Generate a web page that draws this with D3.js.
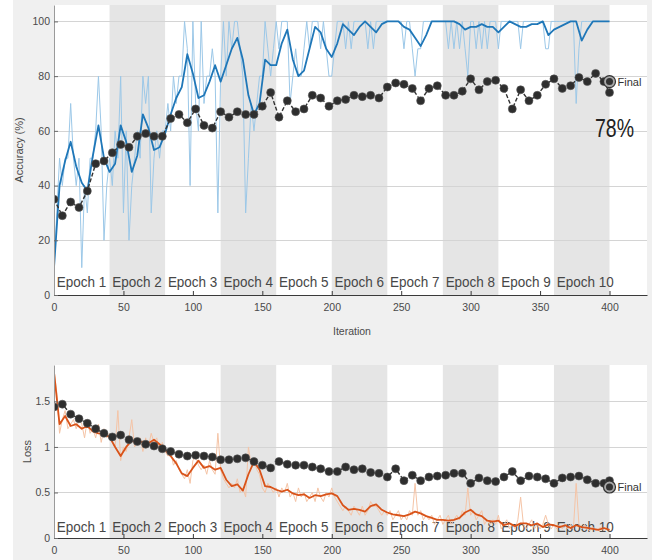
<!DOCTYPE html>
<html>
<head>
<meta charset="UTF-8">
<title>Training Progress</title>
<style>
  body { margin: 0; background: #fff; }
  svg { display: block; }
  svg text { font-family: "Liberation Sans", Arial, sans-serif; }
</style>
</head>
<body>
<script src="https://d3js.org/d3.v7.min.js"></script>
<svg></svg>
<script>
// ---- data ----
const iterTicks = [0, 50, 100, 150, 200, 250, 300, 350, 400];
const accTicks = [0, 20, 40, 60, 80, 100];
const accTickLabels = ["0", "20", "40", "60", "80", "100"];
const lossTicks = [0, 0.5, 1, 1.5];
const lossTickLabels = ["0", "0.5", "1", "1.5"];
const epochs = ["Epoch 1", "Epoch 2", "Epoch 3", "Epoch 4", "Epoch 5",
                "Epoch 6", "Epoch 7", "Epoch 8", "Epoch 9", "Epoch 10"];
const itersPerEpoch = 40;

// iterations of each series
const smoothIters = d3.range(0, 401, 4);
const rawIters = d3.range(0, 401, 2);
const valIters = d3.range(0, 397, 6).concat([400]);

// training accuracy, smoothed (every 4 iterations)
const accSmooth = [
  10, 40, 49, 56, 47, 41, 38, 51, 62, 50,
  45, 48, 62, 56, 45, 51, 66, 61, 53, 54,
  59, 66, 72, 76, 88, 81, 72, 73, 78, 84,
  78, 84, 90, 94, 86, 73, 66, 70, 86, 84,
  84, 92, 97, 86, 80, 82, 90, 98, 96, 90,
  87, 92, 99, 97, 95, 98, 100, 98, 96, 99,
  100, 100, 100, 98, 97, 94, 91, 95, 100, 100,
  100, 100, 100, 99, 97, 98, 98, 99, 98, 98,
  96, 98, 100, 99, 98, 98, 99, 99, 100, 95,
  97, 98, 99, 100, 100, 93, 97, 100, 100, 100,
  100
];
// training accuracy, mini-batch (every 2 iterations)
const accRaw = [
  10, 30, 50, 40, 50, 50, 70, 50, 40, 50,
  10, 40, 30, 50, 50, 60, 80, 60, 20, 40,
  50, 40, 60, 50, 80, 30, 60, 20, 40, 50,
  60, 50, 80, 70, 80, 30, 50, 60, 50, 60,
  60, 70, 60, 80, 70, 80, 80, 100, 90, 40,
  100, 70, 60, 100, 70, 80, 80, 90, 80, 30,
  80, 100, 80, 100, 90, 100, 100, 90, 80, 30,
  50, 70, 60, 70, 80, 80, 100, 90, 80, 90,
  100, 90, 100, 100, 100, 70, 80, 90, 80, 80,
  90, 100, 90, 100, 100, 100, 90, 100, 90, 80,
  80, 90, 100, 100, 100, 90, 100, 90, 100, 100,
  100, 100, 100, 90, 100, 90, 100, 100, 100, 100,
  100, 100, 100, 100, 100, 100, 90, 100, 100, 90,
  80, 90, 90, 100, 100, 100, 100, 100, 100, 100,
  100, 100, 90, 100, 90, 100, 90, 100, 90, 80,
  100, 100, 90, 100, 90, 100, 90, 100, 100, 100,
  90, 100, 100, 100, 100, 100, 100, 100, 90, 100,
  100, 100, 100, 100, 100, 100, 100, 90, 90, 100,
  100, 100, 100, 100, 100, 100, 100, 100, 70, 90,
  100, 100, 100, 100, 100, 100, 100, 100, 100, 100,
  100
];
// validation accuracy (every 6 iterations + last)
const accVal = [
  35, 29, 34, 32, 38, 48, 49, 52, 55, 54,
  58, 59, 58, 58, 64.5, 66, 63, 68, 62, 61,
  67, 65, 67, 66, 66, 69, 74, 65, 71, 67,
  68, 73, 72, 69, 71, 71.5, 73, 72.5, 73, 72,
  76, 77.5, 77, 75.5, 71, 75.5, 76.5, 73, 73, 74.5,
  79, 75, 78, 78.5, 75.5, 68, 75, 71, 73, 77,
  79, 75.5, 76.5, 79.5, 78, 81, 78,
  74
];
const accFinal = 78;

// training loss, smoothed (every 4 iterations)
const lossSmooth = [
  1.82, 1.25, 1.34, 1.23, 1.25, 1.20, 1.23, 1.17, 1.15, 1.14,
  1.11, 1.00, 0.90, 1.00, 1.07, 1.04, 1.06, 1.04, 1.08, 1.03,
  0.97, 0.90, 0.82, 0.71, 0.68, 0.77, 0.85, 0.77, 0.79, 0.75,
  0.77, 0.64, 0.57, 0.59, 0.52, 0.70, 0.84, 0.75, 0.57, 0.56,
  0.53, 0.51, 0.53, 0.49, 0.47, 0.48, 0.44, 0.47, 0.46, 0.48,
  0.49, 0.46, 0.36, 0.31, 0.32, 0.31, 0.29, 0.35, 0.37, 0.31,
  0.28, 0.26, 0.25, 0.24, 0.26, 0.29, 0.27, 0.24, 0.22, 0.20,
  0.20, 0.19, 0.20, 0.22, 0.28, 0.31, 0.26, 0.24, 0.19, 0.18,
  0.19, 0.14, 0.16, 0.13, 0.16, 0.16, 0.14, 0.16, 0.12, 0.15,
  0.14, 0.12, 0.14, 0.11, 0.14, 0.12, 0.11, 0.10, 0.09, 0.11,
  0.09
];
// training loss, mini-batch (every 2 iterations)
const lossRaw = [
  1.85, 1.60, 1.15, 1.30, 1.40, 1.20, 1.25, 1.30, 1.20, 1.30,
  1.25, 1.10, 1.30, 1.15, 1.20, 1.10, 1.25, 1.05, 1.20, 1.10,
  1.15, 1.05, 1.00, 1.40, 0.85, 1.00, 0.95, 1.10, 1.30, 1.00,
  1.05, 1.10, 0.95, 1.10, 1.00, 1.15, 1.05, 1.10, 0.95, 1.05,
  0.95, 0.90, 0.95, 0.80, 0.85, 0.75, 0.70, 0.65, 0.75, 0.60,
  0.85, 0.90, 0.80, 0.75, 0.80, 0.70, 0.85, 0.75, 0.70, 1.15,
  0.75, 0.65, 0.60, 0.55, 0.60, 0.55, 0.65, 0.50, 0.55, 0.45,
  1.00, 0.80, 0.85, 0.75, 0.70, 0.55, 0.50, 0.60, 0.55, 0.50,
  0.55, 0.45, 0.55, 0.50, 0.60, 0.45, 0.50, 0.40, 0.55, 0.45,
  0.50, 0.40, 0.45, 0.50, 0.40, 0.55, 0.45, 0.40, 0.50, 0.45,
  0.55, 0.45, 0.40, 0.35, 0.30, 0.35, 0.30, 0.25, 0.35, 0.30,
  0.25, 0.35, 0.25, 0.30, 0.40, 0.35, 0.35, 0.30, 0.25, 0.30,
  0.25, 0.30, 0.20, 0.25, 0.30, 0.20, 0.25, 0.20, 0.30, 0.25,
  0.60, 0.25, 0.30, 0.20, 0.25, 0.20, 0.25, 0.15, 0.20, 0.25,
  0.15, 0.20, 0.25, 0.15, 0.20, 0.25, 0.20, 0.30, 0.25, 0.55,
  0.25, 0.30, 0.20, 0.25, 0.30, 0.15, 0.20, 0.15, 0.20, 0.15,
  0.25, 0.10, 0.15, 0.20, 0.10, 0.15, 0.10, 0.20, 0.45, 0.15,
  0.10, 0.15, 0.20, 0.10, 0.15, 0.10, 0.15, 0.25, 0.15, 0.10,
  0.15, 0.10, 0.15, 0.10, 0.15, 0.10, 0.15, 0.10, 0.60, 0.15,
  0.10, 0.15, 0.10, 0.08, 0.12, 0.08, 0.10, 0.12, 0.08, 0.10,
  0.09
];
// validation loss (every 6 iterations + last)
const lossVal = [
  1.44, 1.47, 1.36, 1.31, 1.26, 1.20, 1.15, 1.11, 1.13, 1.08,
  1.06, 1.03, 1.01, 0.98, 0.95, 0.92, 0.90, 0.91, 0.90, 0.89,
  0.86, 0.86, 0.87, 0.88, 0.84, 0.80, 0.77, 0.84, 0.81, 0.80,
  0.80, 0.78, 0.76, 0.73, 0.73, 0.78, 0.75, 0.76, 0.72, 0.71,
  0.67, 0.76, 0.63, 0.69, 0.63, 0.67, 0.68, 0.69, 0.71, 0.71,
  0.60, 0.66, 0.63, 0.62, 0.67, 0.73, 0.63, 0.68, 0.67, 0.65,
  0.60, 0.66, 0.67, 0.68, 0.64, 0.60, 0.60,
  0.63
];
const lossFinal = 0.56;

// ---- drawing ----
const W = 662, H = 560;
const svg = d3.select("svg").attr("width", W).attr("height", H);

// figure background
svg.append("rect").attr("x", 13).attr("y", 0).attr("width", 639).attr("height", H)
  .attr("fill", "#f0f0f0");

const x = d3.scaleLinear().domain([0, 427]).range([54, 647]);

function scaledText(g, px, py, str, size, sx, anchor, fill) {
  return g.append("text")
    .attr("transform", "translate(" + px + "," + py + ") scale(" + sx + ",1)")
    .attr("font-size", size)
    .attr("text-anchor", anchor)
    .attr("fill", fill)
    .text(str);
}

function drawPanel(p) {
  const y = d3.scaleLinear().domain([0, p.yMax]).range([p.bottom, p.top]);
  const g = svg.append("g");

  // plot area + epoch bands
  g.append("rect").attr("x", x(0)).attr("y", p.top)
    .attr("width", x(427) - x(0)).attr("height", p.bottom - p.top).attr("fill", "#fff");
  g.selectAll(".band").data(epochs.filter((e, i) => i % 2 === 1)).enter()
    .append("rect")
    .attr("x", d => x(epochs.indexOf(d) * itersPerEpoch))
    .attr("y", p.top)
    .attr("width", x(itersPerEpoch) - x(0))
    .attr("height", p.bottom - p.top)
    .attr("fill", "#e5e5e5");

  // horizontal grid
  g.selectAll(".grid").data(p.ticks).enter().append("line")
    .attr("x1", x(0)).attr("x2", x(427))
    .attr("y1", d => Math.round(y(d)) + 0.5).attr("y2", d => Math.round(y(d)) + 0.5)
    .attr("stroke", "#d4d4d4").attr("stroke-width", 1);

  // epoch labels
  epochs.forEach((e, i) => {
    scaledText(g, x(i * itersPerEpoch + 2), p.epochY, e, 15, 0.9, "start", "#474747");
  });

  const clip = "clip" + p.id;
  svg.append("clipPath").attr("id", clip).append("rect")
    .attr("x", x(0)).attr("y", p.top).attr("width", x(427) - x(0)).attr("height", p.bottom - p.top);
  const plot = g.append("g").attr("clip-path", "url(#" + clip + ")");

  const line = d3.line().x(d => x(d[0])).y(d => y(d[1]));

  plot.append("path")
    .attr("d", line(rawIters.map((it, i) => [it, p.raw[i]])))
    .attr("fill", "none").attr("stroke", p.rawColor).attr("stroke-width", 1)
    .attr("stroke-linejoin", "round");
  plot.append("path")
    .attr("d", line(smoothIters.map((it, i) => [it, p.smooth[i]])))
    .attr("fill", "none").attr("stroke", p.smoothColor).attr("stroke-width", 1.8)
    .attr("stroke-linejoin", "round");

  // validation
  const valPts = valIters.map((it, i) => [it, p.val[i]]);
  plot.append("path").attr("d", line(valPts))
    .attr("fill", "none").attr("stroke", "#333").attr("stroke-width", 1.4)
    .attr("stroke-dasharray", "4,2");
  plot.selectAll(".val").data(valPts).enter().append("circle")
    .attr("cx", d => x(d[0])).attr("cy", d => y(d[1])).attr("r", 4)
    .attr("fill", "#2e2e2e").attr("stroke", "#555").attr("stroke-width", 0.6);

  // final marker
  const fx = x(400), fy = y(p.final);
  g.append("circle").attr("cx", fx).attr("cy", fy).attr("r", 6)
    .attr("fill", "#a8a8a8").attr("stroke", "#333").attr("stroke-width", 1.2);
  g.append("circle").attr("cx", fx).attr("cy", fy).attr("r", 3.5).attr("fill", "#333");
  g.append("text").attr("x", fx + 8).attr("y", fy + 4).attr("font-size", 11)
    .attr("fill", "#333").text("Final");

  // axes
  const xAxis = d3.axisBottom(x).tickValues(iterTicks)
    .tickSizeInner(-4).tickSizeOuter(0).tickPadding(9);
  const gx = g.append("g").attr("transform", "translate(0," + p.bottom + ")").call(xAxis);
  gx.select(".domain").attr("stroke", "#3a3a3a").attr("stroke-width", 1.2);
  gx.selectAll(".tick line").attr("stroke", "#3a3a3a");
  gx.selectAll("text").attr("font-size", 10.5).attr("fill", "#4a4a4a")
    .attr("font-family", "Liberation Sans, Arial, sans-serif");

  const yAxis = d3.axisLeft(y).tickValues(p.ticks)
    .tickFormat((d, i) => p.tickLabels[i])
    .tickSizeInner(-4).tickSizeOuter(0).tickPadding(4);
  const gy = g.append("g").attr("transform", "translate(" + x(0) + ",0)").call(yAxis);
  gy.select(".domain").attr("stroke", "#9a9a9a");
  gy.selectAll(".tick line").attr("stroke", "#6a6a6a");
  gy.selectAll("text").attr("font-size", 10.5).attr("fill", "#4a4a4a")
    .attr("font-family", "Liberation Sans, Arial, sans-serif");

  // y title
  g.append("text")
    .attr("transform", "translate(" + p.yTitleX + "," + ((p.top + p.bottom) / 2) + ") rotate(-90)")
    .attr("text-anchor", "middle").attr("font-size", 11).attr("fill", "#4a4a4a")
    .text(p.yTitle);
}

drawPanel({
  id: "acc", top: 5, bottom: 295, yMax: 106,
  ticks: accTicks, tickLabels: accTickLabels, yTitle: "Accuracy (%)", yTitleX: 23,
  raw: accRaw, smooth: accSmooth, val: accVal, final: accFinal,
  rawColor: "#9cc8e8", smoothColor: "#1f77b8", epochY: 287
});
drawPanel({
  id: "loss", top: 365, bottom: 538, yMax: 1.9,
  ticks: lossTicks, tickLabels: lossTickLabels, yTitle: "Loss", yTitleX: 31,
  raw: lossRaw, smooth: lossSmooth, val: lossVal, final: lossFinal,
  rawColor: "#f5c4a6", smoothColor: "#d95319", epochY: 532
});

// x title and the final accuracy annotation
svg.append("text").attr("x", 352).attr("y", 335).attr("text-anchor", "middle")
  .attr("font-size", 10.5).attr("fill", "#4a4a4a").text("Iteration");
scaledText(svg, 595, 137, "78%", 26, 0.75, "start", "#222");
</script>
</body>
</html>
